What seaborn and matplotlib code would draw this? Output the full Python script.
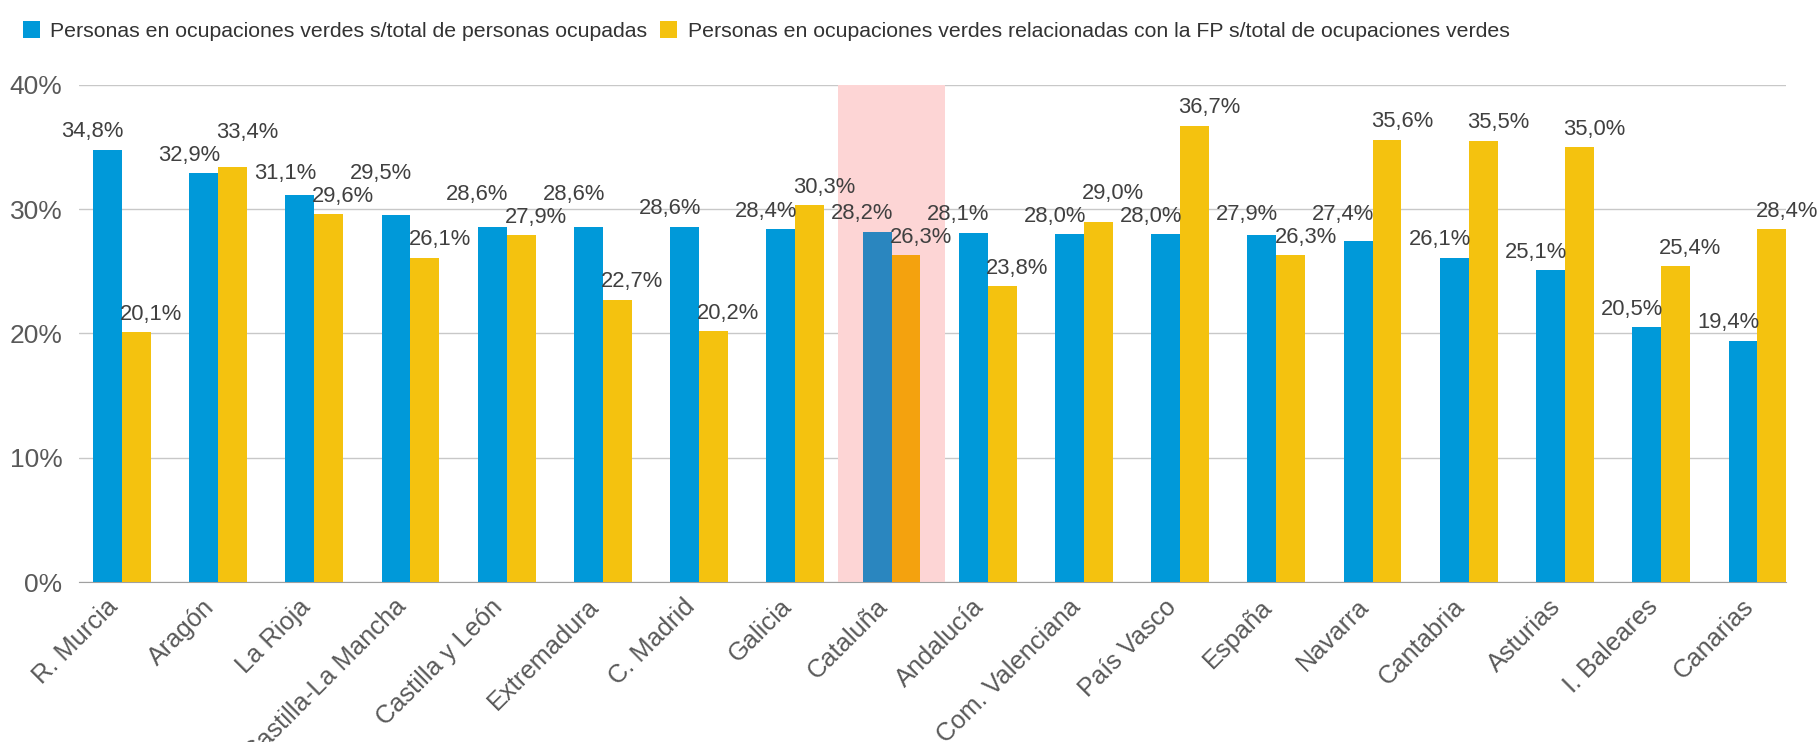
import matplotlib
matplotlib.use("Agg")
import matplotlib.pyplot as plt
import matplotlib.transforms as mtransforms
import seaborn as sns
import pandas as pd
from matplotlib.patches import Patch

regions = ["R. Murcia", "Aragón", "La Rioja", "Castilla-La Mancha", "Castilla y León",
           "Extremadura", "C. Madrid", "Galicia", "Cataluña", "Andalucía",
           "Com. Valenciana", "País Vasco", "España", "Navarra", "Cantabria",
           "Asturias", "I. Baleares", "Canarias"]
verdes_total = [34.8, 32.9, 31.1, 29.5, 28.6, 28.6, 28.6, 28.4, 28.2, 28.1,
                28.0, 28.0, 27.9, 27.4, 26.1, 25.1, 20.5, 19.4]
verdes_fp = [20.1, 33.4, 29.6, 26.1, 27.9, 22.7, 20.2, 30.3, 26.3, 23.8,
             29.0, 36.7, 26.3, 35.6, 35.5, 35.0, 25.4, 28.4]
series_names = ["Personas en ocupaciones verdes s/total de personas ocupadas",
                "Personas en ocupaciones verdes relacionadas con la FP s/total de ocupaciones verdes"]
highlight = "Cataluña"
yticks = [0, 10, 20, 30, 40]

BLUE = "#0099D9"
YELLOW = "#F4C20F"
BLUE_HL = "#2A86BF"
ORANGE_HL = "#F4A20E"

df = pd.DataFrame({
    "region": regions * 2,
    "value": verdes_total + verdes_fp,
    "serie": [series_names[0]] * len(regions) + [series_names[1]] * len(regions),
})

sns.set_style("white")
plt.rcParams["font.family"] = ["Liberation Sans", "DejaVu Sans"]

fig = plt.figure(figsize=(18.19, 7.42), dpi=100)
ax = fig.add_axes([0.0434, 0.2156, 0.9386, 0.67])

sns.barplot(data=df, x="region", y="value", hue="serie", order=regions,
            hue_order=series_names, palette=[BLUE, YELLOW], saturation=1,
            width=0.6, ax=ax, legend=False, zorder=3, linewidth=0, edgecolor="none")

hi = regions.index(highlight)
ax.axvspan(hi - 0.56, hi + 0.56, ymin=0, ymax=1, color="#FDD5D5", zorder=1, lw=0)

c_blue, c_yel = ax.containers[0], ax.containers[1]
c_blue.patches[hi].set_facecolor(BLUE_HL)
c_yel.patches[hi].set_facecolor(ORANGE_HL)

ax.set_ylim(0, 40)
ax.set_xlim(-0.446, len(regions) - 0.7)
ax.set_yticks(yticks)
ax.set_yticklabels([f"{t}%" for t in yticks], fontsize=19, color="#595959")
ax.yaxis.grid(True, color="#C8C8C8", lw=1, zorder=0)
ax.set_axisbelow(True)
ax.tick_params(axis="y", length=0, pad=12)
ax.tick_params(axis="x", length=0, pad=4)
ax.set_xticks(range(len(regions)))
ax.set_xticklabels(regions, rotation=45, ha="right", rotation_mode="anchor",
                   fontsize=18.3, color="#595959")
shift = mtransforms.ScaledTranslation(-16 / 100, -7 / 100, fig.dpi_scale_trans)
for lbl in ax.get_xticklabels():
    lbl.set_transform(lbl.get_transform() + shift)
for s in ["top", "right", "left"]:
    ax.spines[s].set_visible(False)
ax.spines["bottom"].set_color("#A0A0A0")
ax.set_xlabel("")
ax.set_ylabel("")

def fmt(v):
    return f"{v:.1f}%".replace(".", ",")

# value labels: groups left to right, lower label of each group first;
# a label that collides with one already placed is lifted just above it
fig.canvas.draw()
renderer = fig.canvas.get_renderer()
placed = []
inv = ax.transData.inverted()
for i, (b, y) in enumerate(zip(verdes_total, verdes_fp)):
    items = [(b, "right", 0.02), (y, "left", -0.02)]
    items.sort(key=lambda it: it[0])
    for val, ha, dx in items:
        t = ax.text(i + dx, val + 0.6, fmt(val), ha=ha, va="bottom", fontsize=15.8,
                    color="#404040", zorder=5)
        for _ in range(10):
            bb = t.get_window_extent(renderer)
            hit = None
            for p in placed:
                if bb.x0 < p.x1 and bb.x1 > p.x0 and bb.y0 < p.y1 and bb.y1 > p.y0:
                    hit = p
                    break
            if hit is None:
                break
            t.set_y(inv.transform((0, hit.y1 + 2))[1])
        placed.append(t.get_window_extent(renderer))

handles = [Patch(facecolor=BLUE, edgecolor="none"), Patch(facecolor=YELLOW, edgecolor="none")]
fig.legend(handles, series_names, loc="upper left", bbox_to_anchor=(0.002, 0.998),
           ncol=2, frameon=False, fontsize=15.3, handlelength=0.8, handleheight=0.9,
           handletextpad=0.5, columnspacing=0.6, labelcolor="#333333")

fig.savefig("out.png", dpi=100)
